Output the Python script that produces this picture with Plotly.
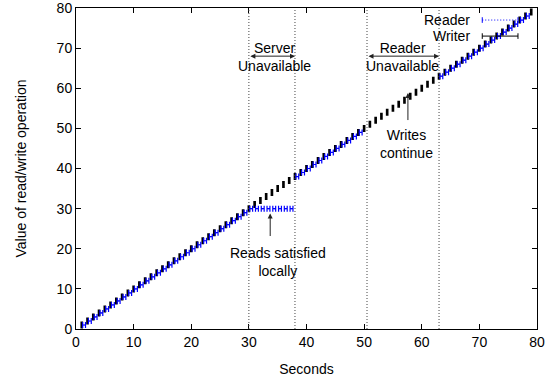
import plotly.graph_objects as go

# Writer operations: time (s), value written, half-duration (s)
writer_t = [1, 2, 3, 4, 5, 6, 7, 8, 9, 10, 11, 12, 13, 14, 15, 16, 17, 18, 19, 20,
            21, 22, 23, 24, 25, 26, 27, 28, 29, 30, 31, 32, 33, 34, 35, 36, 37, 38, 39, 40,
            41, 42, 43, 44, 45, 46, 47, 48, 49, 50, 51, 52, 53, 54, 55, 56, 57, 58, 59, 60,
            61, 62, 63, 64, 65, 66, 67, 68, 69, 70, 71, 72, 73, 74, 75, 76, 77, 78, 79]
writer_v = [1, 2, 3, 4, 5, 6, 7, 8, 9, 10, 11, 12, 13, 14, 15, 16, 17, 18, 19, 20,
            21, 22, 23, 24, 25, 26, 27, 28, 29, 30, 31, 32, 33, 34, 35, 36, 37, 38, 39, 40,
            41, 42, 43, 44, 45, 46, 47, 48, 49, 50, 51, 52, 53, 54, 55, 56, 57, 58, 59, 60,
            61, 62, 63, 64, 65, 66, 67, 68, 69, 70, 71, 72, 73, 74, 75, 76, 77, 78, 79]
writer_err = [0.1] * len(writer_t)

# Reader operations: time (s), value read, half-duration (s)
reader_t = [1.4, 2.4, 3.4, 4.4, 5.4, 6.4, 7.4, 8.4, 9.4, 10.4, 11.4, 12.4, 13.4, 14.4, 15.4,
            16.4, 17.4, 18.4, 19.4, 20.4, 21.4, 22.4, 23.4, 24.4, 25.4, 26.4, 27.4, 28.4, 29.4,
            30.4, 31.4, 32.4, 33.4, 34.4, 35.4, 36.4, 37.4,
            38.4, 39.4, 40.4, 41.4, 42.4, 43.4, 44.4, 45.4, 46.4, 47.4, 48.4, 49.4,
            63.4, 64.4, 65.4, 66.4, 67.4, 68.4, 69.4, 70.4, 71.4, 72.4, 73.4, 74.4, 75.4,
            76.4, 77.4, 78.4]
reader_v = [1, 2, 3, 4, 5, 6, 7, 8, 9, 10, 11, 12, 13, 14, 15,
            16, 17, 18, 19, 20, 21, 22, 23, 24, 25, 26, 27, 28, 29,
            30, 30, 30, 30, 30, 30, 30, 30,
            38, 39, 40, 41, 42, 43, 44, 45, 46, 47, 48, 49,
            63, 64, 65, 66, 67, 68, 69, 70, 71, 72, 73, 74, 75,
            76, 77, 78]
reader_err = [0.25] * len(reader_t)

# Outage boundaries (s)
server_down = [30, 38]
reader_down = [50.5, 63]

x_ticks = [0, 10, 20, 30, 40, 50, 60, 70, 80]
y_ticks = [0, 10, 20, 30, 40, 50, 60, 70, 80]

FONT = "Liberation Sans, Arial, Helvetica, sans-serif"
FS = 14

fig = go.Figure()

fig.add_trace(go.Scatter(
    x=writer_t, y=writer_v, mode="markers", name="Writer",
    marker=dict(size=1, color="black"),
    error_x=dict(type="data", array=writer_err, symmetric=True,
                 color="black", thickness=1.5, width=3.5),
    showlegend=False,
))
fig.add_trace(go.Scatter(
    x=reader_t, y=reader_v, mode="markers", name="Reader",
    marker=dict(size=1, color="blue"),
    error_x=dict(type="data", array=reader_err, symmetric=True,
                 color="blue", thickness=1.2, width=3),
    showlegend=False,
))

shapes = []
for xv in server_down + reader_down:
    shapes.append(dict(type="line", xref="x", yref="paper", x0=xv, x1=xv, y0=0, y1=1,
                       line=dict(color="#444", width=1, dash="1px,2px")))

# Manual legend samples (gnuplot style)
def leg(y, color, dash):
    x0, x1 = 70.5, 76.7
    out = [dict(type="line", xref="x", yref="y", x0=x0, x1=x1, y0=y, y1=y,
                line=dict(color=color, width=1, dash=dash))]
    for xx in (x0, x1):
        out.append(dict(type="line", xref="x", yref="y", x0=xx, x1=xx, y0=y - 0.7, y1=y + 0.7,
                        line=dict(color=color, width=1)))
    return out

shapes += leg(77, "blue", "1px,2px")
shapes += leg(73, "black", "solid")

annotations = [
    dict(x=68.8, y=77, xref="x", yref="y", text="Reader", showarrow=False,
         xanchor="right", yanchor="middle"),
    dict(x=68.8, y=73, xref="x", yref="y", text="Writer", showarrow=False,
         xanchor="right", yanchor="middle"),
    dict(x=34.4, y=67.7, xref="x", yref="y", text="Server<br>Unavailable", showarrow=False,
         xanchor="center", yanchor="middle"),
    dict(x=56.6, y=67.7, xref="x", yref="y", text="Reader<br>Unavailable", showarrow=False,
         xanchor="center", yanchor="middle"),
    dict(x=57.3, y=46.1, xref="x", yref="y", text="Writes<br>continue", showarrow=False,
         xanchor="center", yanchor="middle"),
    dict(x=35.0, y=16.6, xref="x", yref="y", text="Reads satisfied<br>locally", showarrow=False,
         xanchor="center", yanchor="middle"),
    # y-axis title (placed like gnuplot's)
    dict(x=-56 / 461, y=0.5, xref="paper", yref="paper", text="Value of read/write operation",
         textangle=-90, showarrow=False, xanchor="center", yanchor="middle"),
    # arrows
    dict(x=38, y=68, ax=30, ay=68, xref="x", yref="y", axref="x", ayref="y", text="",
         showarrow=True, arrowhead=2, startarrowhead=2, arrowside="end+start",
         arrowsize=1, arrowwidth=1, arrowcolor="#222"),
    dict(x=63, y=68, ax=50.5, ay=68, xref="x", yref="y", axref="x", ayref="y", text="",
         showarrow=True, arrowhead=2, startarrowhead=2, arrowside="end+start",
         arrowsize=1, arrowwidth=1, arrowcolor="#222"),
    dict(x=57.6, y=58.8, ax=57.6, ay=51.7, xref="x", yref="y", axref="x", ayref="y", text="",
         showarrow=True, arrowhead=2, arrowsize=1, arrowwidth=1, arrowcolor="#222"),
    dict(x=33.7, y=28.8, ax=33.7, ay=22.8, xref="x", yref="y", axref="x", ayref="y", text="",
         showarrow=True, arrowhead=2, arrowsize=1, arrowwidth=1, arrowcolor="#222"),
]

axis_common = dict(
    showgrid=False, zeroline=False, showline=True, linecolor="black", linewidth=1,
    mirror="allticks", ticks="inside", ticklen=5, tickcolor="black",
    tickfont=dict(size=FS, color="black", family=FONT), automargin=False,
    ticklabeloverflow="allow",
)

fig.update_layout(
    width=549, height=383,
    margin=dict(l=76, r=12, t=8, b=54),
    paper_bgcolor="white", plot_bgcolor="white",
    font=dict(family=FONT, size=FS, color="black"),
    xaxis=dict(range=[0, 80], tickvals=x_ticks, ticktext=[str(v) for v in x_ticks],
               title=dict(text="Seconds", font=dict(size=FS)), **axis_common),
    yaxis=dict(range=[0, 80], tickvals=y_ticks, ticktext=[str(v) for v in y_ticks],
               **axis_common),
    shapes=shapes,
    annotations=annotations,
    showlegend=False,
)

fig.write_html("out.html", config={"displayModeBar": False},
               post_script="document.body.style.margin='0';")
